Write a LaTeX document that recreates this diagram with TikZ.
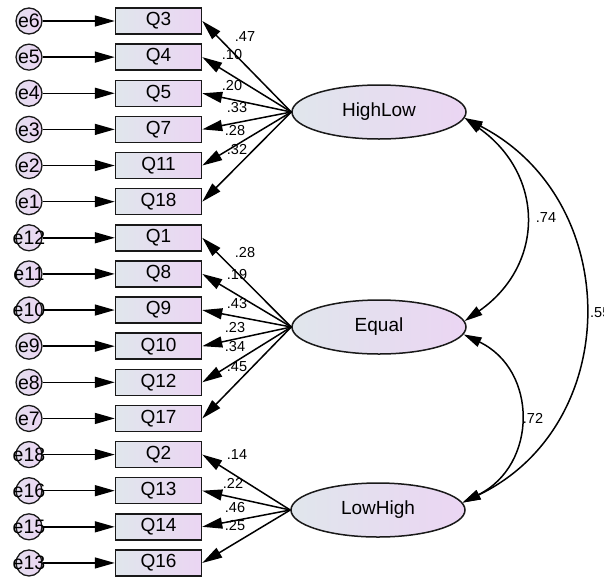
\documentclass[tikz,border=0pt]{standalone}
\usepackage{fontspec}
\setmainfont{Liberation Sans}
\usetikzlibrary{arrows.meta,shapes.geometric}
\definecolor{gL}{RGB}{224,230,236}
\definecolor{gR}{RGB}{235,213,243}
\definecolor{bd}{RGB}{25,25,25}
\begin{document}
\begin{tikzpicture}[x=1pt,y=-1pt,
 obs/.style={draw=bd,line width=1.5pt,left color=gL,right color=gR,minimum width=86pt,minimum height=26pt,inner sep=0pt,font=\fontsize{19}{20}\selectfont},
 err/.style={circle,draw=bd,line width=1.3pt,left color=gL!60!gR,right color=gR,minimum size=26pt,inner sep=0pt,font=\fontsize{19.5}{20}\selectfont},
 lat/.style={ellipse,draw=bd,line width=1.5pt,left color=gL,right color=gR,minimum width=174pt,minimum height=54pt,inner sep=0pt,font=\fontsize{19}{20}\selectfont},
 arr/.style={line width=1.5pt,-{Triangle[length=20pt,width=11pt]}},
 cov/.style={line width=1.5pt,{Triangle[length=18pt,width=10pt]}-{Triangle[length=18pt,width=10pt]}},
 lab/.style={inner sep=0pt,font=\fontsize{14.5}{15}\selectfont}]
\useasboundingbox (0,0) rectangle (604,579);
% observed variables and errors
\foreach \q/\e/\k in {Q3/e6/0,Q4/e5/1,Q5/e4/2,Q7/e3/3,Q11/e2/4,Q18/e1/5,
  Q1/e12/6,Q8/e11/7,Q9/e10/8,Q10/e9/9,Q12/e8/10,Q17/e7/11,
  Q2/e18/12,Q13/e16/13,Q14/e15/14,Q16/e13/15}{
  \node[obs] (\q) at (158.5,{21+36.13*\k}) {\q};
  \node[err] (\e) at (29,{21+36.13*\k}) {\makebox[0pt]{\e}};
  \draw[arr] (\e) -- (\q);
}
% latent variables
\node[lat] (HL) at (379,112) {HighLow};
\node[lat] (EQ) at (379,327) {Equal};
\node[lat] (LH) at (378,510) {LowHigh};
% loadings
\foreach \q in {Q3,Q4,Q5,Q7,Q11,Q18}{\draw[arr] (HL.west) -- (\q.east);}
\foreach \q in {Q1,Q8,Q9,Q10,Q12,Q17}{\draw[arr] (EQ.west) -- (\q.east);}
\foreach \q in {Q2,Q13,Q14,Q16}{\draw[arr] (LH.west) -- (\q.east);}
% loading labels
\node[lab] (a1) at (245,37) {.47};
\node[lab] (a2) at (232,55) {.10};
\node[lab] (a3) at (232,86) {.20};
\node[lab] (a4) at (237,108) {.33};
\node[lab] (a5) at (235,131) {.28};
\node[lab] (a6) at (237,150) {.32};
\node[lab] (b1) at (245,253) {.28};
\node[lab] (b2) at (237,275) {.19};
\node[lab] (b3) at (237,303) {.43};
\node[lab] (b4) at (235,327) {.23};
\node[lab] (b5) at (235,346) {.34};
\node[lab] (b6) at (237,367) {.45};
\node[lab] (c1) at (237,455) {.14};
\node[lab] (c2) at (233,483) {.22};
\node[lab] (c3) at (235,507) {.46};
\node[lab] (c4) at (235,525) {.25};
% covariances
\draw[cov] (HL.-4) .. controls (545,175) and (545,265) .. (EQ.4);
\draw[cov] (HL.-4) .. controls (624,200) and (624,425) .. (LH.5);
\draw[cov] (EQ.-5) .. controls (538,370) and (538,465) .. (LH.5);
\node[lab] (r1) at (546,218) {.74};
\node[lab] (r2) at (533,418) {.72};
\node[lab,anchor=west] (r3) at (590,313) {.55};
\end{tikzpicture}
\end{document}
